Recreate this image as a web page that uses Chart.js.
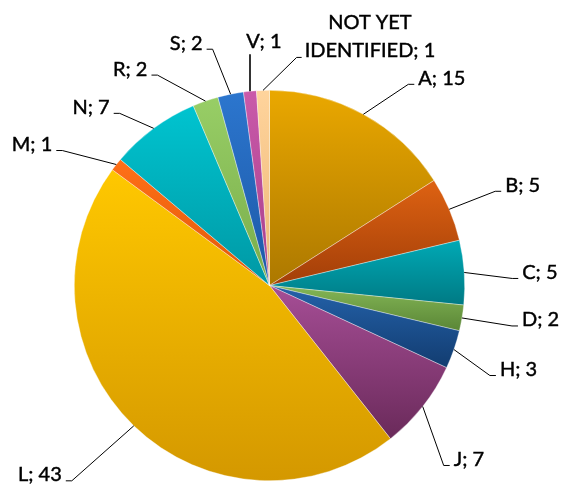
<!DOCTYPE html>
<html>
<head>
<meta charset="utf-8">
<script src="https://cdn.jsdelivr.net/npm/chart.js@4"></script>
<style>
html,body{margin:0;padding:0;background:#fff;}
#wrap{width:561px;height:485px;position:relative;}
</style>
</head>
<body>
<div id="wrap"><canvas id="c" width="561" height="485"></canvas></div>
<script>
// ---- data ----
const categories = ["A","B","C","D","H","J","L","M","N","R","S","V","NOT YET IDENTIFIED"];
const values = [15,5,5,2,3,7,43,1,7,2,2,1,1];
const labelLines = [["A; 15"],["B; 5"],["C; 5"],["D; 2"],["H; 3"],["J; 7"],["L; 43"],["M; 1"],["N; 7"],["R; 2"],["S; 2"],["V; 1"],["NOT YET","IDENTIFIED; 1"]];

// ---- styles ----
const topColors    = ["#EAA800","#DE6212","#00A9B5","#84B656","#2462AA","#A64E96","#FFC800","#FF7018","#00C4D0","#98CE66","#2C76CE","#CA5AAA","#FFD49C"];
const bottomColors = ["#AC7800","#A23E08","#007A84","#5A8636","#123C70","#6A2A5A","#D49800","#E05808","#0098A4","#78AC4A","#1C58A6","#A63E8A","#ECB676"];
// label placement relative to the slice's outer mid point: dx, dy of text anchor, side
const labelLayout = [
  {dx:55, dy:-36, side:1},
  {dx:56, dy:-24, side:1},
  {dx:58, dy:0, side:1},
  {dx:60, dy:2, side:1},
  {dx:46, dy:20, side:1},
  {dx:31, dy:53, side:1},
  {dx:-72, dy:49, side:-1},
  {dx:-64, dy:-20, side:-1},
  {dx:-44, dy:-21, side:-1},
  {dx:-58, dy:-32, side:-1},
  {dx:-28, dy:-51, side:-1},
  {dx:14, dy:-50, side:0},
  {dx:107, dy:-54, side:2}
];
const FONT = '20px "Lato", "Open Sans", sans-serif';

function sliceGradient(ctx){
  const chart = ctx.chart, i = ctx.dataIndex;
  const ca = chart.chartArea;
  if(!ca) return topColors[i];
  const cx = (ca.left+ca.right)/2, cy = (ca.top+ca.bottom)/2;
  const r = Math.min(ca.right-ca.left, ca.bottom-ca.top)/2;
  const total = values.reduce((a,b)=>a+b,0);
  let cum = 0; for(let k=0;k<i;k++) cum += values[k];
  const a0 = -Math.PI/2 + cum/total*2*Math.PI;
  const a1 = a0 + values[i]/total*2*Math.PI;
  let ys = [cy, cy+r*Math.sin(a0), cy+r*Math.sin(a1)];
  for(const t of [-Math.PI/2, Math.PI/2, 3*Math.PI/2]){
    if(t>a0 && t<a1) ys.push(cy+r*Math.sin(t));
  }
  const y0 = Math.min(...ys), y1 = Math.max(...ys);
  const g = chart.ctx.createLinearGradient(0, y0, 0, y1+0.01);
  g.addColorStop(0, topColors[i]);
  g.addColorStop(1, bottomColors[i]);
  return g;
}

function drawText(ctx, s, x, y){
  ctx.fillText(s, x, y);
  ctx.strokeText(s, x, y);
}

const labelPlugin = {
  id:'outLabels',
  afterDatasetsDraw(chart){
    const ctx = chart.ctx;
    const meta = chart.getDatasetMeta(0);
    ctx.save();
    ctx.font = FONT;
    ctx.fillStyle = '#000';
    ctx.strokeStyle = '#000';
    ctx.textBaseline = 'middle';
    const lh = 28;
    meta.data.forEach((arc,i)=>{
      const p = arc.getProps(['x','y','startAngle','endAngle','outerRadius'], true);
      const mid = (p.startAngle+p.endAngle)/2;
      const px = p.x + p.outerRadius*Math.cos(mid);
      const py = p.y + p.outerRadius*Math.sin(mid);
      const L = labelLayout[i];
      const tx = px + L.dx, ty = py + L.dy;
      const lines = labelLines[i];
      ctx.lineWidth = 1;
      ctx.beginPath();
      if(L.side===1 || L.side===-1){
        const ex = tx - 4*L.side, ey = ty + 6;
        ctx.moveTo(px,py); ctx.lineTo(ex-6*L.side, ey); ctx.lineTo(ex, ey);
        ctx.stroke();
        ctx.textAlign = L.side===1 ? 'left' : 'right';
        ctx.lineWidth = 0.45;
        drawText(ctx, lines[0], tx, ty);
      } else if(L.side===0){
        ctx.lineWidth = 1.6;
        ctx.moveTo(Math.round(px),py); ctx.lineTo(Math.round(px), ty+13);
        ctx.stroke();
        ctx.textAlign = 'center';
        ctx.lineWidth = 0.45;
        drawText(ctx, lines[0], tx, ty);
      } else {
        ctx.textAlign = 'center';
        const y2 = ty + lh/2, y1 = ty - lh/2;
        const w = ctx.measureText(lines[1]).width;
        const ex = tx - w/2 - 3, ey = y2 + 7;
        ctx.moveTo(px,py); ctx.lineTo(ex-5, ey); ctx.lineTo(ex, ey);
        ctx.stroke();
        ctx.lineWidth = 0.45;
        drawText(ctx, lines[0], tx, y1);
        drawText(ctx, lines[1], tx, y2);
      }
    });
    ctx.restore();
  }
};

new Chart(document.getElementById('c'), {
  type:'pie',
  data:{
    labels: categories,
    datasets:[{
      data: values,
      backgroundColor: sliceGradient,
      borderColor: 'rgba(255,255,255,0.6)',
      borderWidth: 0.6
    }]
  },
  options:{
    responsive:false,
    animation:false,
    layout:{padding:{left:74, right:96, top:90, bottom:4}},
    plugins:{legend:{display:false}, tooltip:{enabled:false}}
  },
  plugins:[labelPlugin]
});
</script>
</body>
</html>
